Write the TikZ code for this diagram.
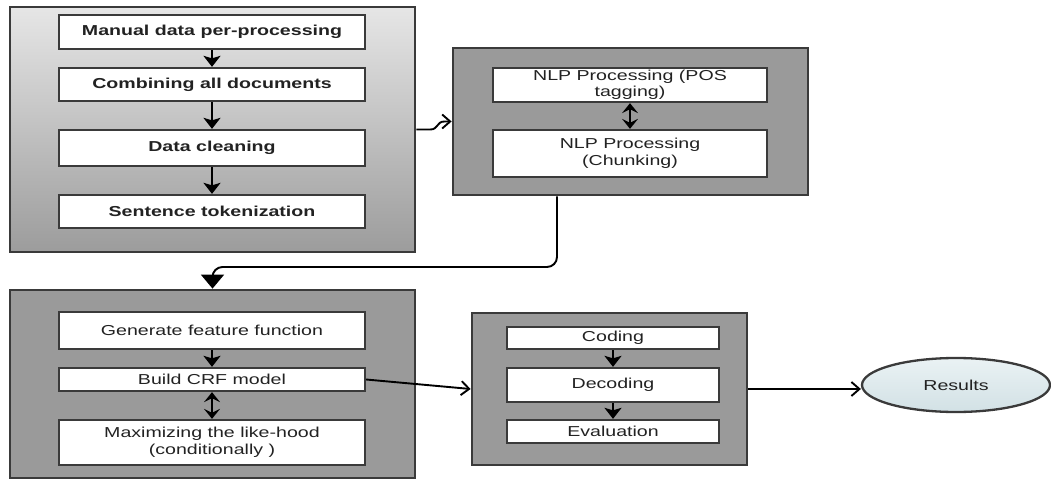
\documentclass[tikz,border=0pt]{standalone}
\usepackage{fontspec}
\setmainfont{Liberation Sans}[FakeStretch=1.36]
\usetikzlibrary{arrows.meta,calc,shapes.geometric}
\definecolor{outergray}{HTML}{9A9A9A}
\definecolor{bordergray}{HTML}{3A3A3A}
\definecolor{textc}{HTML}{222222}
\definecolor{gradtop}{HTML}{E6E6E6}
\definecolor{gradbot}{HTML}{9C9C9C}
\definecolor{restop}{HTML}{EAF2F4}
\definecolor{resbot}{HTML}{D2E1E5}
\tikzset{
  outerbox/.style={draw=bordergray, line width=2.8pt, fill=outergray, inner sep=0pt},
  gradbox/.style={draw=bordergray, line width=2.8pt, top color=gradtop, bottom color=gradbot, inner sep=0pt},
  innerbox/.style={draw=bordergray, line width=2.3pt, fill=white, inner sep=0pt, text=textc, align=center,
                   font=\fontsize{14.4pt}{16.5pt}\selectfont},
  boldbox/.style={innerbox, font=\fontsize{14.4pt}{16.5pt}\selectfont\bfseries},
  flow/.style={line width=2.9pt, draw=black, -{Stealth[length=11pt,width=17pt,inset=2.5pt]}},
  dbl/.style={line width=2.9pt, draw=black, {Stealth[length=10pt,width=16pt,inset=4pt]}-{Stealth[length=10pt,width=16pt,inset=4pt]}},
  link/.style={line width=1.9pt, draw=black, -{Straight Barb[length=8pt,width=14pt,line width=1.9pt]}},
  bigflow/.style={line width=1.9pt, draw=black, rounded corners=10pt, -{Triangle[length=14pt,width=23pt]}},
  resnode/.style={ellipse, draw=bordergray, line width=2.3pt, top color=restop, bottom color=resbot, inner sep=0pt,
                  text=textc, font=\fontsize{14.4pt}{16.5pt}\selectfont}
}
\begin{document}
\begin{tikzpicture}[x=1pt,y=-1pt]
\useasboundingbox (0,0) rectangle (1051,481);

% Group 1
\node[gradbox, minimum width=405pt, minimum height=245pt] (g1) at (212.5,129.5) {};
\node[boldbox, minimum width=306pt, minimum height=34pt] (a1) at (212,32) {Manual data per-processing};
\node[boldbox, minimum width=306pt, minimum height=33pt] (a2) at (212,84.5) {Combining all documents};
\node[boldbox, minimum width=306pt, minimum height=36pt] (a3) at (212,148) {Data cleaning};
\node[boldbox, minimum width=306pt, minimum height=33pt] (a4) at (212,211.5) {Sentence tokenization};
\draw[flow] (a1) -- (a2);
\draw[flow] (a2) -- (a3);
\draw[flow] (a3) -- (a4);

% Group 2
\node[outerbox, minimum width=355pt, minimum height=147pt] (g2) at (630.5,121.5) {};
\node[innerbox, minimum width=274pt, minimum height=34pt] (p1) at (630,85) {NLP Processing (POS\\tagging)};
\node[innerbox, minimum width=274pt, minimum height=47pt] (p2) at (630,153.5) {NLP Processing\\(Chunking)};
\draw[dbl] (p1) -- (p2);

% Group 3
\node[outerbox, minimum width=405pt, minimum height=188pt] (g3) at (212.5,384) {};
\node[innerbox, minimum width=306pt, minimum height=37pt] (c1) at (212,330.5) {Generate feature function};
\node[innerbox, minimum width=306pt, minimum height=23pt] (c2) at (212,379.5) {Build CRF model};
\node[innerbox, minimum width=306pt, minimum height=45pt] (c3) at (212,442.5) {Maximizing the like-hood\\(conditionally )};
\draw[flow] (c1) -- (c2);
\draw[dbl] (c2) -- (c3);

% Group 4
\node[outerbox, minimum width=275pt, minimum height=152pt] (g4) at (609.5,389) {};
\node[innerbox, minimum width=212pt, minimum height=22pt] (d1) at (613,338) {Coding};
\node[innerbox, minimum width=212pt, minimum height=34pt] (d2) at (613,385) {Decoding};
\node[innerbox, minimum width=212pt, minimum height=23pt] (d3) at (613,431.5) {Evaluation};
\draw[flow] (d1) -- (d2);
\draw[flow] (d2) -- (d3);

% Results
\node[resnode, minimum width=188pt, minimum height=54pt] (res) at (956,385) {Results};

% Connectors between groups
\draw[link] (g1.east) -- ++(14,0) .. controls +(8,0) and +(-8,0) .. ++(14,-8) -- (g2.west);
\draw[bigflow] ([xshift=-73.5pt]g2.south) |- (g3.north |- 0,267) -- (g3.north);
\draw[link] (c2.east) -- (g4.west);
\draw[link] (g4.east) -- (res.west |- g4.east);
\end{tikzpicture}
\end{document}
